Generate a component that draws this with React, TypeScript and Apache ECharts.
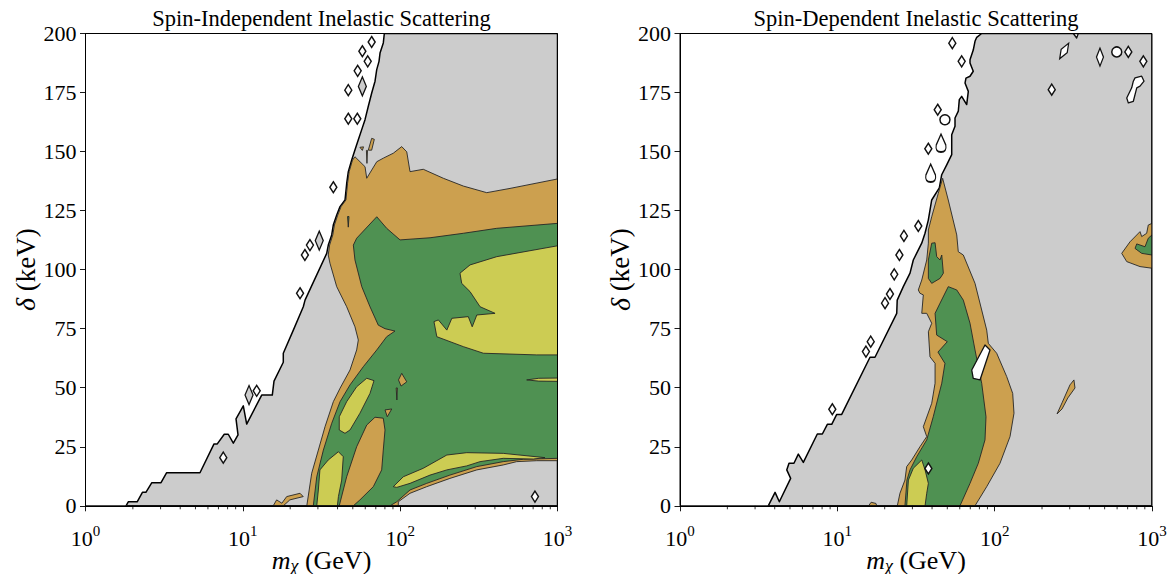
import React, { useEffect, useRef } from 'react';
import * as echarts from 'echarts';

type Pt = [number, number];

// ---------- shared axis data ----------
const deltaTicks = [0, 25, 50, 75, 100, 125, 150, 175, 200];
const minorMass = [2, 3, 4, 5, 6, 7, 8, 9, 20, 30, 40, 50, 60, 70, 80, 90, 200, 300, 400, 500, 600, 700, 800, 900];
const titles = ['Spin-Independent Inelastic Scattering', 'Spin-Dependent Inelastic Scattering'];

// ---------- Spin-Independent panel (mass GeV, delta keV) ----------
const siBoundary: Pt[] = [[1.81,0],[1.87,1.7],[2.13,1.7],[2.30,5.7],[2.42,5.7],[2.64,9.8],[3.02,9.8],[3.28,14.0],[5.34,14.0],[6.56,26.2],[6.88,26.2],[7.62,30.3],[8.08,30.3],[8.70,26.5],[9.32,30],[9.05,36.8],[10.07,42.3],[10.58,34.6],[13.18,46.9],[15.39,46.9],[15.78,52.8],[18.08,60.8],[18.08,64.6],[20.94,74.4],[24.23,84.3],[24.85,87.1],[34.13,106.9],[34.93,110.4],[36.72,114.7],[37.58,118.9],[39.52,123.1],[41.47,126.7],[44.62,129.5],[45.74,136.6],[46.82,141.5],[49.2,146.4],[51.64,150.8],[54.2,155],[56.96,159.3],[59.78,163.5],[62.74,169.2],[65.94,174.8],[69.22,179.8],[70.96,184.7],[73.38,188.2],[74.47,191.7],[78.13,196],[79.3,200],[1000,200],[1000,0]];
const siOrange: Pt[] = [[51.6,147.8],[59.8,143.6],[61.3,138.7],[71.0,145.7],[78.1,147.2],[90.4,149.3],[102.3,152.1],[110.1,149.9],[115.5,141.5],[140.3,142.5],[188,138.7],[252,135.4],[355,132.6],[499,134.4],[1000,138.4],[1000,19.1],[738,19.1],[550,18.7],[452,17.3],[307,15.2],[207,11.6],[147.5,8.1],[115.5,5.3],[97.3,1.7],[97.3,0],[25.5,0],[27.4,13.8],[30.2,23.6],[33.3,33.5],[37.6,44.1],[41.5,49.8],[48.0,57.5],[52.9,66.0],[54.2,70.2],[51.6,75.8],[45.7,84.3],[39.5,92.8],[35.8,102.7],[34.9,106.2],[35.6,110.4],[37.3,114.7],[38.2,118.9],[40.1,123.1],[42.1,126.7],[45.2,129.5],[46.3,136.6],[47.4,141.5],[49.8,146.4]];
const siGreen: Pt[] = [[50.4,110.4],[52.9,113.3],[71.0,122.4],[82.1,117.5],[99.8,112.6],[154.8,113.5],[252,115.4],[411,117.5],[1000,119.6],[1000,20.1],[606,19.7],[452,18.7],[307,16.6],[207,13.0],[147.5,9.5],[115.5,6.7],[95.1,1.7],[86.2,0],[28.05,0],[29.5,12.3],[32.5,23.6],[36.7,34.9],[41.5,44.1],[48.0,51.2],[58.3,58.9],[71.0,66.0],[82.1,71.6],[92.7,74.0],[80.1,75.0],[72.6,76.5],[64.3,84.3],[57.0,92.8],[51.6,104.1]];
const siYellowBig: Pt[] = [[240,98.5],[278,102],[411,105.5],[1000,110.1],[1000,63.9],[738,63.9],[338,64.6],[252,67.4],[171,71.6],[164,78.0],[175,78.7],[198,74.4],[213,79.4],[271,80.1],[287,75.8],[307,80.8],[401,81.5],[322,84.3],[278,90.7],[246,94.2]];
const siOrangeStrip: Pt[] = [[41.0,0],[45.7,12.3],[52.9,25.0],[61.3,34.2],[69.2,37.5],[78.1,37.1],[80.1,32.1],[78.1,23.6],[76.3,15.2],[67.5,8.1],[55.5,2.5],[50.4,0]];
const siYellowUpper: Pt[] = [[61.3,54.0],[68.2,53.0],[64.3,47.6],[55.5,39.2],[48.0,32.1],[44.6,30.7],[41.0,32.1],[41.0,37.7],[45.7,44.1],[52.9,50.4]];
const siYellowLower: Pt[] = [[40.5,22.9],[43.5,20.8],[42.5,10.9],[40.5,3.9],[39.9,0],[29.5,0],[30.2,6.7],[30.9,15.2],[34.9,19.4]];
const siYellowBand: Pt[] = [[90.4,8.1],[104.7,12.3],[140.3,15.9],[198,21.5],[265,22.5],[452,22.2],[833,20.4],[702,19.8],[452,20.1],[322,18.7],[265,16.9],[198,15.2],[154.8,13.0],[115.5,9.5],[95.1,7.8]];
const siYellowStreak: Pt[] = [[637,53.3],[760,54.0],[1000,54.1],[1000,52.7],[760,52.8]];
const siOrangeIslands: Pt[][] = [
  [[102.3,56.1],[110.1,52.5],[101.3,50.7],[97.6,53.3]],
  [[80.1,40.6],[88.4,41.0],[82.8,37.7]],
  [[94.3,49.9],[96,49.9],[95.3,44.8]],
  [[62.7,150.6],[65.9,155.6],[68.5,155.2],[65.9,150.6]],
  [[61.0,150.5],[62.0,150.5],[61.5,145]],
  [[55.5,151.8],[58.5,152],[57.5,150.5]],
  [[15.6,0],[16.4,2.5],[17.7,1.1],[19.0,3.9],[23.1,5.3],[24.2,3.9],[19.9,2.5],[18.1,0]],
];
const siGreenIslands: Pt[][] = [[[46.3,122.5],[47.3,122.5],[46.8,118]]];
const siWhiteDiamonds: Pt[] = [[65.9,196.4],[57.5,192.5],[62.2,188.2],[53.7,184.2],[46.8,176],[46.8,163.9],[53.4,163.9],[37.6,134.9],[26.7,110.4],[24.8,106.2],[23.1,90],[7.51,20.4],[12.25,48.7],[719,3.9]];
const siGrayOvals: Pt[] = [[57.5,177.6],[30.6,112.3],[10.95,46.9]];

// ---------- Spin-Dependent panel ----------
const sdBoundary: Pt[] = [[3.64,0],[4.02,5.7],[4.28,1.7],[5.05,11.6],[4.77,15.2],[4.93,18],[5.30,18],[5.65,21.9],[6.08,18.4],[7.46,30.4],[8.03,30.4],[8.64,34.5],[9.21,34.5],[9.91,38.7],[10.66,38.7],[16.13,62.9],[17.35,62.9],[23.85,81.5],[24.02,87.1],[26.26,92.8],[28.97,98.5],[30.4,104.1],[34.38,111.2],[36.08,115.4],[37.86,121],[39.8,129.5],[44.48,134.6],[46.07,140.2],[49.57,144.4],[53.33,148.7],[53.33,157.1],[55.97,160.7],[55.97,164.2],[58.74,167.1],[59.6,172],[61.7,173.4],[66.4,169.9],[68.0,175.5],[64.8,179],[65.7,181.1],[69.7,181.9],[73.1,184],[69.7,187.5],[69.7,188.9],[73.1,193],[75.0,196.7],[76.9,198.4],[82.7,200],[1000,200],[1000,0]];
const sdOrange: Pt[] = [[46.7,138.7],[50.7,129.5],[57.4,114.7],[58.7,107.6],[63.2,106.2],[75.0,94.2],[89.0,74.4],[91.1,68.8],[103.0,64.6],[119.3,54.7],[130.2,47.6],[132.7,39.2],[125.2,29.3],[108.1,18.0],[89.0,8.1],[75.0,0],[24.06,0],[25.0,5.3],[26.9,10.9],[27.6,16.6],[29.7,19.4],[33.5,25.0],[37.0,29.3],[35.2,33.5],[39.8,43.4],[41.8,51.9],[41.8,60.3],[38.8,63.1],[37.9,73.7],[39.8,77.3],[37.0,81.5],[34.4,81.5],[35.2,89.3],[33.5,90],[32.7,91.4],[34.4,95.6],[37.0,104.1],[37.9,111.2],[37.9,116.8],[39.8,122.4],[43.8,132.3]];
const sdGreenSmall: Pt[] = [[39.8,111.2],[41.8,111.4],[42.8,105.5],[44.96,104.1],[46.1,106.2],[47.2,98.5],[44.96,96.3],[39.8,94.2],[37.9,96.3],[37.9,104.1]];
const sdGreen: Pt[] = [[50.7,92.8],[57.4,91.4],[63.2,87.1],[69.7,77.3],[75.0,66.0],[78.7,58.9],[82.7,51.9],[88.1,37.7],[86.8,27.9],[78.7,18.0],[69.7,9.5],[60.2,0],[26.9,0],[27.7,10.9],[28.97,15.2],[31.96,20.8],[37.0,27.9],[40.7,37.7],[46.1,51.9],[48.3,60.3],[43.6,65.1],[50.0,69.5],[42.8,72.3],[41.8,81.5],[44.96,85.8]];
const sdYellow: Pt[] = [[27.6,0],[28.3,10.9],[30.4,15.9],[34.4,19.4],[36.1,15.2],[37.9,9.5],[37.0,5.3],[36.1,0]];
const sdOrangeEdge: Pt[] = [[1000,119.6],[947,118.9],[925,115.4],[860,114],[839,116.1],[725,111.8],[642,106.9],[691,103.4],[839,101.3],[1000,100.6]];
const sdGreenEdge: Pt[] = [[1000,114.7],[947,113.3],[903,109.7],[800,110.9],[780,109],[860,106.9],[1000,106.2]];
const sdOrangeIslands: Pt[][] = [
  [[249,38.9],[268,43.6],[301,51.2],[319,53.3],[324,49.9],[292,45.7],[268,41]],
  [[15.8,0],[16.4,1.5],[17.6,1],[17.8,0]],
];
const sdWhiteHoles: Pt[][] = [
  [[86.8,68.1],[93.4,66],[80.7,53.3],[73.1,54],[71.5,57.5]],
  [[780,181.2],[860,181.9],[890,179.8],[839,177.7],[800,177],[761,171.3],[707,170.6],[691,172.7],[743,177],[761,179.8]],
  [[316,200],[332,198.1],[340,200]],
];
const sdWhiteDiamonds: Pt[] = [[53.8,195.9],[61.7,188.2],[43.45,167.7],[37.86,151.2],[32.7,118.5],[26.5,114.3],[24.8,106.2],[23.0,98],[21.6,89.7],[20.1,85.8],[16.3,69.5],[15.2,65.3],[9.29,40.9],[230.5,176.2],[707,192.2],[881,188.2],[37.9,15.8]];
const sdWhiteRounds: Pt[] = [[48.3,163.5],[597,192.2]];
const sdWhiteDrops: Pt[] = [[45.6,153.6],[39.2,140.9]];
const sdWhiteOvals: Pt[] = [[467,190]];
const sdWhiteSlanted: Pt[] = [[276.6,192.6]];

// ---------- styles ----------
const GRAY = '#cccccc';
const ORANGE = '#cca04f';
const GREEN = '#4f9152';
const YELLOW = '#cccc53';
const EDGE = '#262626';
const FONT = "'Liberation Serif', 'DejaVu Serif', serif";

function poly(g: number, pts: Pt[], fill: string, z: number, stroke = EDGE, lw = 0.9): any {
  return {
    type: 'custom', xAxisIndex: g, yAxisIndex: g, coordinateSystem: 'cartesian2d',
    data: pts, clip: true, silent: true, z,
    renderItem: (params: any, api: any) => {
      if (params.dataIndex !== 0) return null;
      return {
        type: 'polygon',
        shape: { points: pts.map((p) => api.coord(p)) },
        style: { fill, stroke, lineWidth: lw, lineJoin: 'round' },
      };
    },
  };
}

function marks(g: number, pts: Pt[], symbol: string, size: any, fill: string, z: number, rotate = 0): any {
  return {
    type: 'scatter', xAxisIndex: g, yAxisIndex: g, data: pts, symbol, symbolSize: size, symbolRotate: rotate,
    silent: true, z, clip: false,
    itemStyle: { color: fill, borderColor: '#111', borderWidth: 1.5, opacity: 1 },
  };
}

function minorTickSeries(g: number): any {
  return {
    type: 'custom', xAxisIndex: g, yAxisIndex: g, coordinateSystem: 'cartesian2d',
    data: minorMass.map((m) => [m, 0]), clip: false, silent: true, z: 30,
    renderItem: (params: any, api: any) => {
      const p = api.coord([api.value(0), 0]);
      return { type: 'line', shape: { x1: p[0], y1: p[1], x2: p[0], y2: p[1] + 3.5 }, style: { stroke: '#000', lineWidth: 0.8 } };
    },
  };
}

const GRID_LEFT = [85.5, 680];
const GRID_TOP = 33.5;
const GRID_W = 472;
const GRID_H = 472.3;

function xAxis(g: number): any {
  return {
    type: 'log', logBase: 10, min: 1, max: 1000, gridIndex: g, position: 'bottom', z: 30,
    axisLine: { show: true, onZero: false, lineStyle: { color: '#000', width: 1 } },
    axisTick: { show: true, length: 5.5, lineStyle: { color: '#000', width: 0.9 } },
    minorTick: { show: false }, splitLine: { show: false },
    axisLabel: {
      margin: 18, color: '#000',
      formatter: (v: number) => '{b|10}{e|' + Math.round(Math.log10(v)) + '}',
      rich: {
        b: { fontFamily: FONT, fontSize: 22, color: '#000' },
        e: { fontFamily: FONT, fontSize: 15, color: '#000', padding: [0, 0, 14, 0] },
      },
    },
  };
}

function yAxis(g: number): any {
  return {
    type: 'value', min: 0, max: 200, interval: 25, gridIndex: g, z: 30,
    axisLine: { show: true, onZero: false, lineStyle: { color: '#000', width: 1 } },
    axisTick: { show: true, length: 5.5, lineStyle: { color: '#000', width: 0.9 } },
    splitLine: { show: false },
    axisLabel: { margin: 9, color: '#000', fontFamily: FONT, fontSize: 22, formatter: (v: number) => (deltaTicks.includes(v) ? String(v) : '') },
  };
}

const xNameRich = {
  i: { fontFamily: FONT, fontSize: 26, fontStyle: 'italic', fill: '#000', color: '#000' },
  s: { fontFamily: FONT, fontSize: 18, fontStyle: 'italic', fill: '#000', color: '#000', padding: [11, 0, 0, 0] },
  n: { fontFamily: FONT, fontSize: 26, fill: '#000', color: '#000' },
};
const yNameRich = {
  i: { fontFamily: FONT, fontSize: 28, fontStyle: 'italic', fill: '#000', color: '#000' },
  n: { fontFamily: FONT, fontSize: 27, fill: '#000', color: '#000' },
};

export default function App() {
  const ref = useRef<HTMLDivElement>(null);
  useEffect(() => {
    if (!ref.current) return;
    const chart = echarts.init(ref.current, null, { renderer: 'svg' });
    const series: any[] = [
      // left panel
      poly(0, siBoundary, GRAY, 2, '#000', 1.5),
      poly(0, siOrange, ORANGE, 3),
      poly(0, siGreen, GREEN, 4),
      poly(0, siYellowBig, YELLOW, 5),
      poly(0, siOrangeStrip, ORANGE, 5),
      poly(0, siYellowUpper, YELLOW, 5),
      poly(0, siYellowLower, YELLOW, 5),
      poly(0, siYellowBand, YELLOW, 5),
      poly(0, siYellowStreak, YELLOW, 5),
      ...siOrangeIslands.map((p) => poly(0, p, ORANGE, 6)),
      ...siGreenIslands.map((p) => poly(0, p, GREEN, 6)),
      marks(0, siWhiteDiamonds, 'diamond', [7, 11], '#ffffff', 7),
      marks(0, siGrayOvals, 'diamond', [8, 19], GRAY, 7),
      minorTickSeries(0),
      // right panel
      poly(1, sdBoundary, GRAY, 2, '#000', 1.5),
      poly(1, sdOrange, ORANGE, 3),
      poly(1, sdGreen, GREEN, 4),
      poly(1, sdGreenSmall, GREEN, 4),
      poly(1, sdYellow, YELLOW, 5),
      poly(1, sdOrangeEdge, ORANGE, 3),
      poly(1, sdGreenEdge, GREEN, 4),
      ...sdOrangeIslands.map((p) => poly(1, p, ORANGE, 6)),
      ...sdWhiteHoles.map((p) => poly(1, p, '#ffffff', 6, '#111', 1.3)),
      marks(1, sdWhiteDiamonds, 'diamond', [7, 11], '#ffffff', 7),
      marks(1, sdWhiteRounds, 'circle', [10, 10], '#ffffff', 7),
      marks(1, sdWhiteDrops, 'path://M5 0L9 11Q10 18 5 18Q0 18 1 11Z', [10, 18], '#ffffff', 7),
      marks(1, sdWhiteOvals, 'diamond', [7, 18], '#ffffff', 7),
      marks(1, sdWhiteSlanted, 'diamond', [7, 18], '#ffffff', 7, -30),
      minorTickSeries(1),
    ];
    const graphic: any[] = [];
    [0, 1].forEach((g) => {
      const cx = GRID_LEFT[g] + GRID_W / 2;
      graphic.push({
        type: 'text', x: cx, y: 18, z: 40,
        style: { text: titles[g], font: `22.5px ${FONT}`, fill: '#000', textAlign: 'center', textVerticalAlign: 'middle', align: 'center', verticalAlign: 'middle' },
      });
      graphic.push({
        type: 'text', x: cx, y: 560, z: 40,
        style: { text: '{i|m}{s|χ}{n| (GeV)}', rich: xNameRich, fill: '#000', align: 'center', verticalAlign: 'middle', textAlign: 'center', textVerticalAlign: 'middle' },
      });
      graphic.push({
        type: 'text', x: GRID_LEFT[g] - 60, y: GRID_TOP + GRID_H / 2, rotation: Math.PI / 2, z: 40,
        style: { text: '{i|δ}{n| (keV)}', rich: yNameRich, fill: '#000', align: 'center', verticalAlign: 'middle', textAlign: 'center', textVerticalAlign: 'middle' },
      });
    });
    chart.setOption({
      animation: false,
      backgroundColor: '#ffffff',
      grid: [0, 1].map((g) => ({
        left: GRID_LEFT[g], top: GRID_TOP, width: GRID_W, height: GRID_H,
        containLabel: false, outerBoundsMode: 'none',
        show: true, borderColor: '#000', borderWidth: 1, backgroundColor: 'rgba(0,0,0,0)', z: 30,
      })),
      xAxis: [xAxis(0), xAxis(1)],
      yAxis: [yAxis(0), yAxis(1)],
      graphic,
      series,
    });
    return () => chart.dispose();
  }, []);
  return <div ref={ref} style={{ position: 'absolute', left: 0, top: 0, width: 1175, height: 574 }} />;
}
